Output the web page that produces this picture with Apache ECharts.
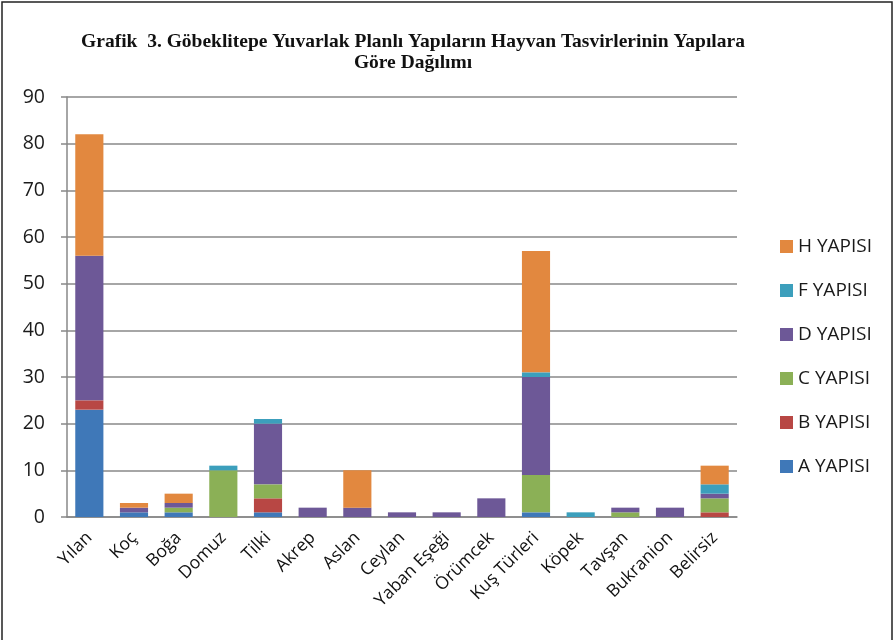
<!DOCTYPE html>
<html><head><meta charset="utf-8">
<script src="https://cdn.jsdelivr.net/npm/echarts@6/dist/echarts.min.js"></script>
<style>html,body{margin:0;padding:0;background:#fff}#c{width:895px;height:640px}</style>
</head><body><div id="c"></div>
<script>
const categories = ['Yılan','Koç','Boğa','Domuz','Tilki','Akrep','Aslan','Ceylan','Yaban Eşeği','Örümcek','Kuş Türleri','Köpek','Tavşan','Bukranion','Belirsiz'];
const yapiA = [23,1,1,0,1,0,0,0,0,0,1,0,0,0,0];
const yapiB = [2,0,0,0,3,0,0,0,0,0,0,0,0,0,1];
const yapiC = [0,0,1,10,3,0,0,0,0,0,8,0,1,0,3];
const yapiD = [31,1,1,0,13,2,2,1,1,4,21,0,1,2,1];
const yapiF = [0,0,0,1,1,0,0,0,0,0,1,1,0,0,2];
const yapiH = [26,1,2,0,0,0,8,0,0,0,26,0,0,0,4];
const yTicks = [0,10,20,30,40,50,60,70,80,90];

const names = ['A YAPISI','B YAPISI','C YAPISI','D YAPISI','F YAPISI','H YAPISI'];
const colors = ['#3F78B8','#B84744','#8BB056','#6D5897','#3C9FBC','#E2883F'];
const datas = [yapiA,yapiB,yapiC,yapiD,yapiF,yapiH];

const chart = echarts.init(document.getElementById('c'));
chart.setOption({
  animation:false,
  graphic:[{type:'rect',shape:{x:2,y:2,width:890,height:660},style:{fill:'none',stroke:'#222',lineWidth:1.5},silent:true}],
  title:{
    text:'Grafik  3. Göbeklitepe Yuvarlak Planlı Yapıların Hayvan Tasvirlerinin Yapılara\nGöre Dağılımı',
    left:408, top:26, textAlign:'center',
    textStyle:{fontFamily:'Liberation Serif',fontWeight:'bold',fontSize:19.5,lineHeight:21,color:'#111'}
  },
  legend:{
    orient:'vertical', left:775, top:232, itemGap:25, itemWidth:13, itemHeight:13,
    data:['H YAPISI','F YAPISI','D YAPISI','C YAPISI','B YAPISI','A YAPISI'],
    textStyle:{fontFamily:'Open Sans',fontSize:19,color:'#1a1a1a'},
    icon:'rect'
  },
  grid:{left:67,right:158,top:97,bottom:123},
  xAxis:{
    type:'category', data:categories,
    axisLine:{lineStyle:{color:'#888',width:1.5}},
    axisTick:{show:false},
    axisLabel:{rotate:45,interval:0,margin:18,fontFamily:'Open Sans',fontSize:17.5,color:'#111'}
  },
  yAxis:{
    type:'value', min:yTicks[0], max:yTicks[yTicks.length-1], interval:10,
    axisLine:{show:true,lineStyle:{color:'#888',width:1.5}},
    axisTick:{show:true,length:6,lineStyle:{color:'#888',width:1.5}},
    splitLine:{lineStyle:{color:'#888',width:1.5}},
    axisLabel:{margin:22,fontFamily:'Open Sans',fontSize:19.5,color:'#1a1a1a'}
  },
  series:names.map((n,i)=>({
    name:n, type:'bar', stack:'s', data:datas[i], barWidth:'63%',
    itemStyle:{color:colors[i]}
  }))
});
</script></body></html>
